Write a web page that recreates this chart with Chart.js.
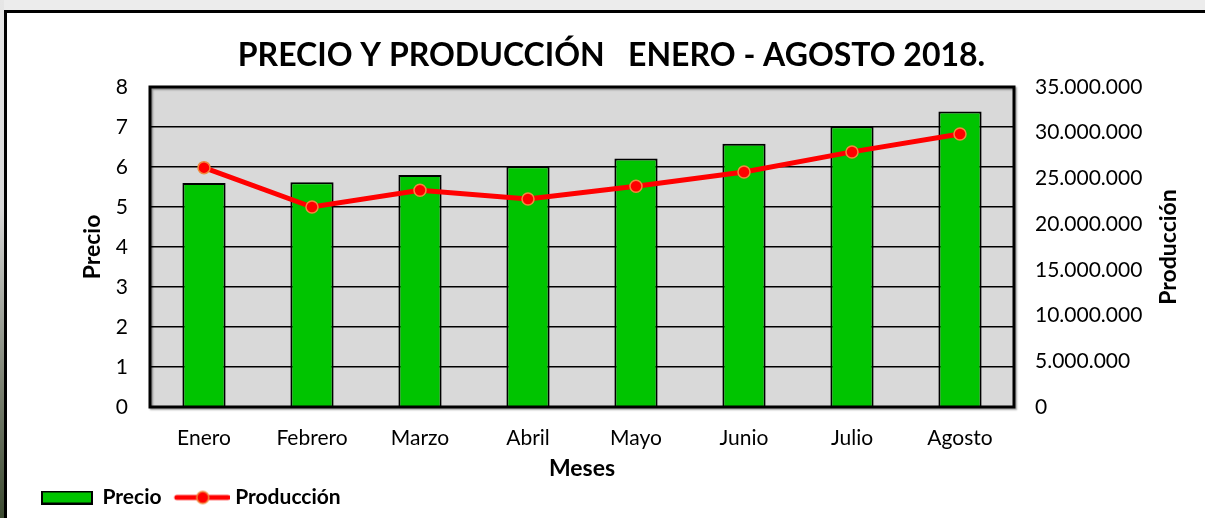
<!DOCTYPE html>
<html>
<head>
<meta charset="utf-8">
<script src="https://cdn.jsdelivr.net/npm/chart.js@4"></script>
<style>
  html, body { margin: 0; padding: 0; width: 1205px; height: 518px; overflow: hidden; background: #ececec; }
  #strip { position: absolute; left: 0; top: 0; width: 4px; height: 518px;
           background: linear-gradient(to bottom, #e6e6e6 0%, #d8d8d8 40%, #7a8070 75%, #3c4a30 100%); }
  #frame { position: absolute; left: 4px; top: 10px; width: 1300px; height: 600px;
           border-left: 3px solid #000; border-top: 3px solid #000; background: #fff; }
  #c { position: absolute; left: 0; top: 0; }
</style>
</head>
<body>
<div id="strip"></div>
<div id="frame"></div>
<canvas id="c" width="1205" height="518"></canvas>
<script>
const meses = ['Enero', 'Febrero', 'Marzo', 'Abril', 'Mayo', 'Junio', 'Julio', 'Agosto'];
const precio = [5.60, 5.62, 5.80, 6.02, 6.21, 6.58, 7.02, 7.39];
const produccion = [26180000, 21870000, 23700000, 22750000, 24140000, 25700000, 27900000, 29860000];
const precioTicks = [0, 1, 2, 3, 4, 5, 6, 7, 8];
const produccionTicks = [0, 5000000, 10000000, 15000000, 20000000, 25000000, 30000000, 35000000];
const rightTitle = 'Producción';

const FONT = 'Lato';
const GREEN = '#00c400';
const RED = '#ff0000';
const ORANGE = '#f08a3c';

function fmtMiles(v) {
  return String(Math.round(v)).replace(/\B(?=(\d{3})+(?!\d))/g, '.');
}

// legend symbols
const boxImg = document.createElement('canvas');
boxImg.width = 52; boxImg.height = 14;
(function () {
  const g = boxImg.getContext('2d');
  g.fillStyle = GREEN; g.fillRect(1, 1, 50, 12);
  g.strokeStyle = '#000'; g.lineWidth = 2; g.strokeRect(1, 1, 50, 12);
})();
const lineImg = document.createElement('canvas');
lineImg.width = 60; lineImg.height = 16;
(function () {
  const g = lineImg.getContext('2d');
  g.strokeStyle = RED; g.lineWidth = 5; g.lineCap = 'round';
  g.beginPath(); g.moveTo(7, 8); g.lineTo(58, 8); g.stroke();
  g.beginPath(); g.arc(33, 8, 6, 0, Math.PI * 2);
  g.fillStyle = RED; g.fill();
  g.strokeStyle = ORANGE; g.lineWidth = 1.5; g.stroke();
})();

const plotFrame = {
  id: 'plotFrame',
  beforeDraw(chart) {
    const a = chart.chartArea, ctx = chart.ctx;
    ctx.save();
    ctx.fillStyle = '#d9d9d9';
    ctx.fillRect(a.left, a.top, a.right - a.left, a.bottom - a.top);
    ctx.restore();
  },
  afterDraw(chart) {
    const a = chart.chartArea, ctx = chart.ctx;
    ctx.save();
    ctx.shadowColor = 'rgba(0,0,0,0.35)';
    ctx.shadowBlur = 2;
    ctx.shadowOffsetX = 1.5;
    ctx.shadowOffsetY = 1.5;
    ctx.strokeStyle = '#000';
    ctx.lineWidth = 3;
    ctx.strokeRect(a.left, a.top, a.right - a.left, a.bottom - a.top);
    ctx.restore();
    // right axis title, reading bottom-to-top
    const s = chart.scales.y1;
    ctx.save();
    ctx.translate(s.right - 20, (a.top + a.bottom) / 2);
    ctx.rotate(-Math.PI / 2);
    ctx.fillStyle = '#000';
    ctx.font = 'bold 23px ' + FONT;
    ctx.textAlign = 'center';
    ctx.textBaseline = 'middle';
    ctx.fillText(rightTitle, 0, 0);
    ctx.restore();
  }
};

new Chart(document.getElementById('c'), {
  data: {
    labels: meses,
    datasets: [
      {
        type: 'line',
        label: 'Producción',
        data: produccion,
        yAxisID: 'y1',
        order: 0,
        borderColor: RED,
        borderWidth: 5,
        pointRadius: 6,
        pointBackgroundColor: RED,
        pointBorderColor: ORANGE,
        pointBorderWidth: 1.5,
        tension: 0
      },
      {
        type: 'bar',
        label: 'Precio',
        data: precio,
        yAxisID: 'y',
        order: 1,
        backgroundColor: GREEN,
        borderColor: '#000',
        borderWidth: 2,
        categoryPercentage: 1,
        barPercentage: 0.4
      }
    ]
  },
  options: {
    responsive: false,
    animation: false,
    events: [],
    layout: { padding: { left: 34, right: 16, top: 0, bottom: 0 } },
    plugins: {
      title: {
        display: true,
        text: 'PRECIO Y PRODUCCIÓN   ENERO - AGOSTO 2018.',
        color: '#000',
        font: { family: FONT, size: 32, weight: 'bold' },
        padding: { top: 36.8, bottom: 11.8 }
      },
      legend: {
        display: true,
        position: 'bottom',
        align: 'start',
        labels: {
          usePointStyle: true,
          pointStyleWidth: 50,
          padding: 8,
          color: '#000',
          font: { family: FONT, size: 21, weight: 'bold' },
          generateLabels() {
            return [
              { text: 'Precio ', pointStyle: boxImg, fontColor: '#000', datasetIndex: 1, hidden: false, lineWidth: 0 },
              { text: 'Producción', pointStyle: lineImg, fontColor: '#000', datasetIndex: 0, hidden: false, lineWidth: 0 }
            ];
          }
        }
      },
      tooltip: { enabled: false }
    },
    scales: {
      x: {
        offset: true,
        grid: { display: false, drawTicks: false },
        border: { display: false },
        ticks: { color: '#000', padding: 19, font: { family: FONT, size: 21 } },
        title: {
          display: true, text: 'Meses', color: '#000',
          font: { family: FONT, size: 23, weight: 'bold' },
          padding: { top: 0, bottom: -3 }
        },
        afterFit(s) { s.height = 72; }
      },
      y: {
        position: 'left',
        min: 0, max: 8,
        afterBuildTicks(s) { s.ticks = precioTicks.map(v => ({ value: v })); },
        grid: { color: '#000', lineWidth: 1.5, drawTicks: false },
        border: { display: false },
        ticks: { color: '#000', padding: 22, font: { family: FONT, size: 21 } },
        title: {
          display: true, text: 'Precio', color: '#000',
          font: { family: FONT, size: 23, weight: 'bold' },
          padding: { top: 45.2, bottom: 0 }
        },
        afterFit(s) { s.width = 116; }
      },
      y1: {
        position: 'right',
        min: 0, max: 35000000,
        afterBuildTicks(s) { s.ticks = produccionTicks.map(v => ({ value: v })); },
        grid: { display: false, drawTicks: false },
        border: { display: false },
        ticks: { color: '#000', padding: 21, font: { family: FONT, size: 21 }, callback: v => fmtMiles(v) },
        title: { display: false },
        afterFit(s) { s.width = 175; }
      }
    }
  },
  plugins: [plotFrame]
});
</script>
</body>
</html>
